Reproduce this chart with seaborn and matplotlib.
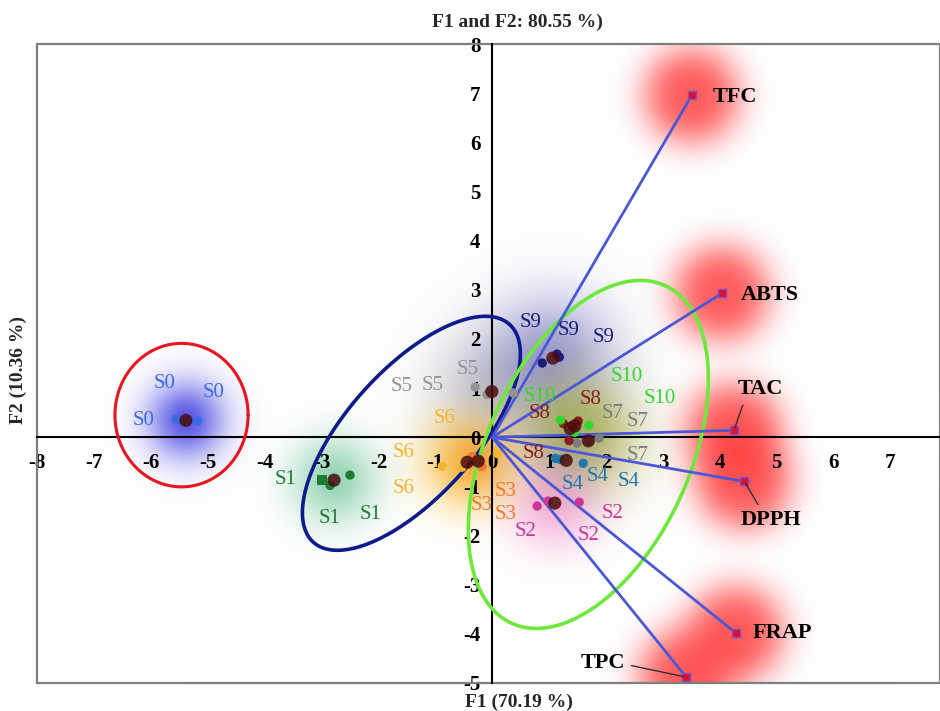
import numpy as np
import pandas as pd
import seaborn as sns
import matplotlib.pyplot as plt
from matplotlib.colors import to_rgb
from matplotlib.patches import Rectangle

# ---- data ----
# observation scores, three replicates per sample
sample_ids = ['S0'] * 3 + ['S1'] * 3 + ['S2'] * 3 + ['S3'] * 3 + ['S4'] * 3 + ['S5'] * 3 \
    + ['S6'] * 3 + ['S7'] * 3 + ['S8'] * 3 + ['S9'] * 3 + ['S10'] * 3
f1_scores = [-5.55, -5.43, -5.17,
             -2.99, -2.85, -2.50,
             0.79, 0.98, 1.53,
             -0.35, -0.21, -0.18,
             1.60, 1.11, 1.19,
             -0.30, -0.09, 0.37,
             -0.53, 0.09, -0.88,
             1.88, 1.49, 1.70,
             1.51, 1.25, 1.35,
             0.88, 1.14, 1.18,
             1.70, 1.20, 1.45]
f2_scores = [0.37, 0.33, 0.33,
             -0.87, -0.98, -0.77,
             -1.40, -1.30, -1.32,
             -0.39, -0.47, -0.60,
             -0.53, -0.43, -0.45,
             1.02, 0.87, 0.90,
             -0.61, -0.33, -0.59,
             -0.02, -0.12, -0.08,
             0.33, 0.28, -0.07,
             1.51, 1.69, 1.63,
             0.24, 0.35, 0.10]
point_shape = ['o'] * 33
point_shape[3] = 's'

# variable loadings (end points of the vectors)
var_names = ['TFC', 'ABTS', 'TAC', 'DPPH', 'FRAP', 'TPC']
var_f1 = [3.51, 4.04, 4.25, 4.43, 4.29, 3.41]
var_f2 = [6.96, 2.93, 0.14, -0.90, -3.99, -4.88]

samples = ['S0', 'S1', 'S2', 'S3', 'S4', 'S5', 'S6', 'S7', 'S8', 'S9', 'S10']
sample_colors = ['#3b6ae6', '#1f7a36', '#c8379a', '#f07a28', '#1f78a8', '#939393',
                 '#f4b630', '#7c7c7c', '#8b1c1c', '#1c1c7a', '#2ed82e']

# label placement for the replicate labels
label_pos = {
    'S0': [(-5.75, 1.10), (-4.90, 0.92), (-6.13, 0.35)],
    'S1': [(-3.64, -0.87), (-2.85, -1.65), (-2.14, -1.57)],
    'S2': [(0.58, -1.91), (2.11, -1.55), (1.69, -1.99)],
    'S3': [(0.23, -1.10), (-0.18, -1.38), (0.23, -1.57)],
    'S4': [(1.41, -0.96), (1.85, -0.79), (2.39, -0.90)],
    'S5': [(-0.44, 1.38), (-1.04, 1.06), (-1.60, 1.04)],
    'S6': [(-0.83, 0.39), (-1.56, -0.31), (-1.56, -1.04)],
    'S7': [(2.11, 0.49), (2.55, 0.31), (2.55, -0.37)],
    'S8': [(1.72, 0.77), (0.84, 0.49), (0.72, -0.33)],
    'S9': [(0.67, 2.34), (1.35, 2.18), (1.95, 2.03)],
    'S10': [(0.84, 0.83), (2.37, 1.24), (2.95, 0.79)],
}

# confidence ellipses: centre and two conjugate semi-axes (data units)
ellipses = [
    ((-5.46, 0.45), (1.17, 0.0), (0.0, 1.46), '#e8141e', 2.2),
    ((-1.42, 0.08), (1.724, 2.216), (-0.835, 0.869), '#0c1a8c', 2.6),
    ((1.69, -0.35), (1.346, 3.436), (-1.625, 0.853), '#6ee83a', 2.6),
]

df = pd.DataFrame({'sample': sample_ids, 'F1': f1_scores, 'F2': f2_scores, 'shape': point_shape})
centroids = df.groupby('sample', sort=False)[['F1', 'F2']].mean().reset_index()
palette = dict(zip(samples, sample_colors))

sns.set_style('white')
plt.rcParams['font.family'] = ['Liberation Serif', 'DejaVu Serif']
plt.rcParams['axes.unicode_minus'] = False

fig = plt.figure(figsize=(9.4, 7.11), dpi=100)
ax = fig.add_axes([37 / 940, 28 / 711, 903 / 940, 639 / 711])
xmin, xmax, ymin, ymax = -8, 7.87, -5, 8
ax.set_xlim(xmin, xmax)
ax.set_ylim(ymin, ymax)

# ---- soft glows behind the points ----
W, H = 903, 639
sx, sy = W / (xmax - xmin), H / (ymax - ymin)
X, Y = np.meshgrid(np.linspace(xmin, xmax, W), np.linspace(ymin, ymax, H))
img = np.ones((H, W, 3))


def glow(cx, cy, color, radius, strength, power=2):
    global img
    r = np.hypot((X - cx) * sx, (Y - cy) * sy)
    a = (strength * np.exp(-(r / radius) ** power))[..., None]
    img = img * (1 - a) + np.array(to_rgb(color)) * a


glow_style = {
    'S5': ('#8c8ca0', 60, 0.45), 'S9': ('#3030a0', 62, 0.45),
    'S7': ('#a89c30', 58, 0.5), 'S8': ('#8a6a20', 40, 0.3), 'S10': ('#98c030', 45, 0.35),
    'S4': ('#70a0b0', 35, 0.25), 'S2': ('#f060c0', 45, 0.45),
    'S6': ('#f8b000', 45, 0.65), 'S3': ('#f08020', 30, 0.45),
    'S1': ('#2eaa6a', 42, 0.5), 'S0': ('#3a3ae0', 38, 0.85),
}
cent = centroids.set_index('sample')
for s, (c, rad, st) in glow_style.items():
    glow(cent.loc[s, 'F1'], cent.loc[s, 'F2'], c, rad, st)
for vx, vy in zip(var_f1, var_f2):
    glow(vx, vy, '#ff3535', 50, 0.8, power=3)

ax.imshow(img, extent=[xmin, xmax, ymin, ymax], origin='lower', aspect='auto',
          zorder=0, interpolation='bilinear')

# ---- ellipses ----
t = np.linspace(0, 2 * np.pi, 400)
for (cx, cy), u, v, col, lw in ellipses:
    ax.plot(cx + u[0] * np.cos(t) + v[0] * np.sin(t),
            cy + u[1] * np.cos(t) + v[1] * np.sin(t), color=col, lw=lw, zorder=3)

# ---- variable vectors ----
for vx, vy in zip(var_f1, var_f2):
    ax.plot([0, vx], [0, vy], color='#4a58d6', lw=2, zorder=3.5)
ax.scatter(var_f1, var_f2, marker='s', s=30, color='#e0102a', edgecolor='#7a50d0',
           linewidth=1, zorder=6)

# ---- observations ----
sns.scatterplot(data=df, x='F1', y='F2', hue='sample', palette=palette, style='shape',
                markers={'o': 'o', 's': 's'}, s=45, edgecolor='none', legend=False,
                ax=ax, zorder=4)
sns.scatterplot(data=centroids, x='F1', y='F2', color='#4a0c0c', s=90, alpha=0.85,
                edgecolor='none', legend=False, ax=ax, zorder=5)

for s, col in zip(samples, sample_colors):
    for lx, ly in label_pos[s]:
        ax.text(lx, ly, s, color=col, fontsize=15, ha='center', va='center', zorder=7)

# variable labels
vtxt = dict(fontsize=16, fontweight='bold', color='black', zorder=7)
ax.text(3.87, 6.92, 'TFC', ha='left', va='center', **vtxt)
ax.text(4.36, 2.89, 'ABTS', ha='left', va='center', **vtxt)
ax.text(4.57, -3.99, 'FRAP', ha='left', va='center', **vtxt)
lead = dict(arrowstyle='-', color='#303030', lw=1)
ax.annotate('TAC', xy=(var_f1[2], var_f2[2]), xytext=(4.32, 0.98), ha='left', va='center',
            arrowprops=dict(relpos=(0.15, 0.0), **lead), **vtxt)
ax.annotate('DPPH', xy=(var_f1[3], var_f2[3]), xytext=(4.36, -1.69), ha='left', va='center',
            arrowprops=dict(relpos=(0.35, 1.0), **lead), **vtxt)
ax.annotate('TPC', xy=(var_f1[5], var_f2[5]), xytext=(2.34, -4.60), ha='right', va='center',
            arrowprops=dict(relpos=(1.0, 0.45), **lead), **vtxt)

# ---- axes through the origin + grey frame ----
for side in ['top', 'right']:
    ax.spines[side].set_visible(False)
for side in ['left', 'bottom']:
    ax.spines[side].set_position('zero')
    ax.spines[side].set_color('black')
    ax.spines[side].set_linewidth(1.5)
    ax.spines[side].set_zorder(2)
ax.add_patch(Rectangle((0, 0), 1, 1, transform=ax.transAxes, fill=False,
                       edgecolor='#7f7f7f', lw=1.6, clip_on=False, zorder=1))
ax.set_xticks(range(-8, 8))
ax.set_yticks(range(-5, 9))
ax.tick_params(direction='inout', length=10, width=1.5, colors='black', labelsize=15)
ax.tick_params(axis='x', pad=6)
for lab in ax.get_xticklabels() + ax.get_yticklabels():
    lab.set_fontweight('bold')
ax.set_xlabel('')
ax.set_ylabel('')

tkw = dict(fontsize=14, fontweight='bold', ha='center', va='center')
fig.text(517 / 940, 1 - 22 / 711, 'F1 and F2: 80.55 %)', **tkw)
fig.text(519 / 940, 1 - 702 / 711, 'F1 (70.19 %)', **tkw)
fig.text(18 / 940, 1 - 370 / 711, 'F2 (10.36 %)', rotation=90, **tkw)

fig.savefig('out.png', dpi=100)
